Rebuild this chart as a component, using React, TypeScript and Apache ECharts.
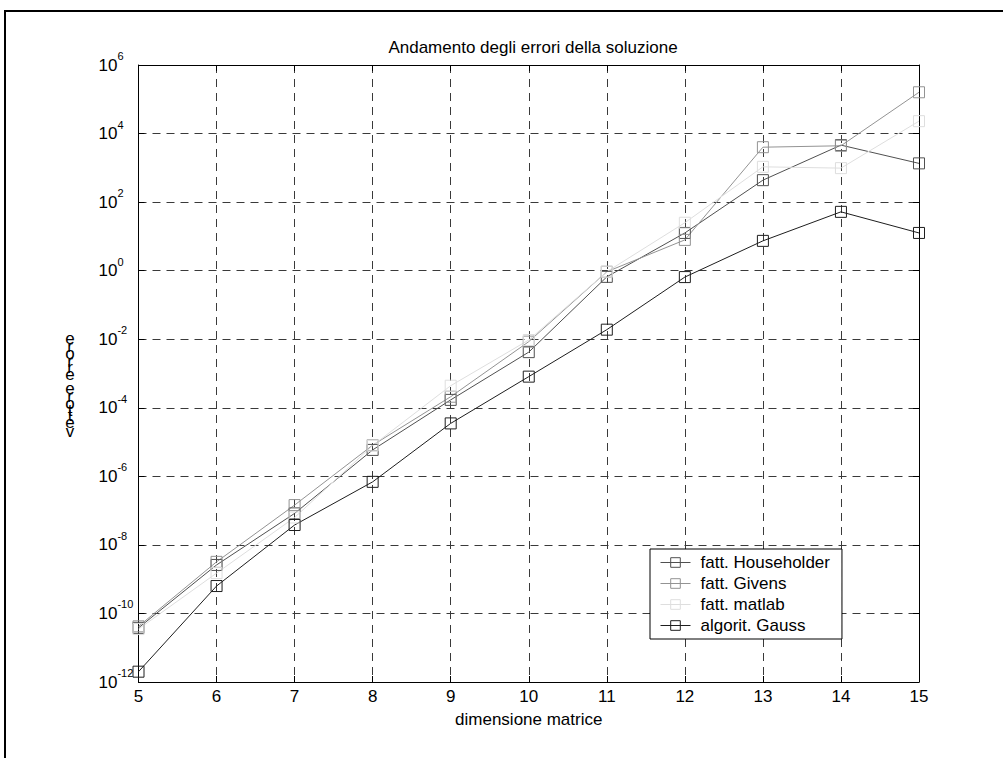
import React, { useEffect, useRef } from "react";
import * as echarts from "echarts";

// ---- data ----
const dims = [5, 6, 7, 8, 9, 10, 11, 12, 13, 14, 15];
const householder = [3.8e-11, 2.6e-9, 8.3e-8, 5.9e-6, 1.7e-4, 4.2e-3, 0.66, 12.6, 437, 4.6e3, 1.35e3];
const givens = [4.2e-11, 3.2e-9, 1.45e-7, 8.1e-6, 2.1e-4, 8.5e-3, 0.93, 7.9, 4.0e3, 4.4e3, 1.6e5];
const matlab = [3.5e-11, 1.5e-9, 6.3e-8, 7.9e-6, 4.4e-4, 9.5e-3, 0.93, 25, 1.07e3, 9.8e2, 2.3e4];
const gauss = [2.0e-12, 6.3e-10, 3.8e-8, 6.9e-7, 3.5e-5, 8.1e-4, 1.9e-2, 0.65, 7.4, 52, 12.6];
const seriesNames = ["fatt. Householder", "fatt. Givens", "fatt. matlab", "algorit. Gauss"];
const seriesValues = [householder, givens, matlab, gauss];
const seriesColors = ["#505050", "#939393", "#dedede", "#1e1e1e"];
const titleText = "Andamento degli errori della soluzione";
const xName = "dimensione matrice";
const yName = "vettore errore";
const xMin = 5, xMax = 15, xStep = 1;
const yMin = 1e-12, yMax = 1e6, yExpStep = 2;

const FONT = "'Liberation Sans', Arial, Helvetica, sans-serif";
const FS = 17;

// y-axis name drawn as upright glyphs stacked bottom-to-top (one text element)
function yNameText() {
  const canvas = document.createElement("canvas");
  const ctx = canvas.getContext("2d");
  const chars = Array.from(yName);
  const adv = chars.map((ch) => {
    if (!ctx) return FS * 0.5;
    ctx.font = `${FS}px 'Liberation Sans', Arial, sans-serif`;
    return ctx.measureText(ch).width;
  });
  const total = adv.reduce((a, b) => a + b, 0);
  const rich: any = {};
  const lines: string[] = [];
  for (let k = chars.length - 1; k >= 0; k--) {
    const key = "c" + k;
    rich[key] = { fontSize: FS, fontFamily: FONT, fill: "#000", lineHeight: adv[k], align: "center" };
    lines.push(`{${key}|${chars[k]}}`);
  }
  const base = 436;
  return {
    type: "text",
    x: 70,
    y: base - total,
    silent: true,
    style: {
      text: lines.join("\n"),
      rich,
      fill: "#000",
      fontSize: FS,
      fontFamily: FONT,
      align: "center",
      verticalAlign: "top",
      textAlign: "center",
      textVerticalAlign: "top",
    },
  };
}

export default function App() {
  const ref = useRef<HTMLDivElement>(null);
  useEffect(() => {
    if (!ref.current) return;
    const chart = echarts.init(ref.current, null, { renderer: "svg" });
    const axisLineStyle = { color: "#000", width: 1 };
    const gridLine = { show: true, lineStyle: { color: "#3a3a3a", width: 1, type: [8, 6] as any } };
    const option: any = {
      animation: false,
      backgroundColor: "#fff",
      textStyle: { fontFamily: FONT },
      title: {
        text: titleText,
        left: 528,
        top: 34,
        textAlign: "center",
        textStyle: { fontSize: FS, fontWeight: "normal", color: "#000", fontFamily: FONT },
      },
      grid: { left: 138.5, right: 84, top: 65, bottom: 76 },
      legend: {
        orient: "vertical",
        left: 650,
        top: 549,
        padding: [5, 12, 5, 10],
        itemGap: 4,
        itemWidth: 30,
        itemHeight: 12,
        borderColor: "#000",
        borderWidth: 1,
        backgroundColor: "#fff",
        selectedMode: false,
        lineStyle: { width: 1 },
        itemStyle: { borderWidth: 1 },
        textStyle: { fontSize: FS, color: "#000", fontFamily: FONT, padding: [0, 0, 0, 5] },
        data: seriesNames,
      },
      xAxis: [
        {
          type: "value",
          min: xMin,
          max: xMax,
          interval: xStep,
          axisLine: { lineStyle: axisLineStyle },
          axisTick: { inside: true, length: 6, lineStyle: axisLineStyle },
          axisLabel: { color: "#000", fontSize: FS, margin: 6, fontFamily: FONT },
          splitLine: gridLine,
          name: xName,
          nameLocation: "middle",
          nameGap: 29,
          nameTextStyle: { color: "#000", fontSize: FS, fontFamily: FONT },
        },
        {
          type: "value",
          position: "top",
          min: xMin,
          max: xMax,
          interval: xStep,
          axisLine: { lineStyle: axisLineStyle },
          axisTick: { inside: true, length: 6, lineStyle: axisLineStyle },
          axisLabel: { show: false },
          splitLine: { show: false },
        },
      ],
      yAxis: [
        {
          type: "log",
          logBase: 10,
          min: yMin,
          max: yMax,
          interval: yExpStep,
          axisLine: { show: true, lineStyle: axisLineStyle },
          axisTick: { show: true, inside: true, length: 6, lineStyle: axisLineStyle },
          axisLabel: {
            align: "left",
            margin: 40,
            color: "#000",
            showMinLabel: true,
            showMaxLabel: true,
            formatter: (v: number) => `{b|10}{s|${Math.round(Math.log10(v))}}`,
            rich: {
              b: { fontSize: FS, color: "#000", fontFamily: FONT },
              s: { fontSize: 11, color: "#000", fontFamily: FONT, padding: [0, 0, 18, 0] },
            },
          },
          splitLine: gridLine,
        },
        {
          type: "log",
          logBase: 10,
          position: "right",
          min: yMin,
          max: yMax,
          interval: yExpStep,
          axisLine: { show: true, lineStyle: axisLineStyle },
          axisTick: { show: true, inside: true, length: 6, lineStyle: axisLineStyle },
          axisLabel: { show: false },
          splitLine: { show: false },
        },
      ],
      graphic: [
        {
          type: "rect",
          silent: true,
          shape: { x: 5, y: 11, width: 1200, height: 1000 },
          style: { fill: "none", stroke: "#000", lineWidth: 2 },
        },
        yNameText(),
      ],
      series: seriesNames.map((name, i) => ({
        name,
        type: "line",
        xAxisIndex: 0,
        yAxisIndex: 0,
        data: dims.map((d, j) => [d, seriesValues[i][j]]),
        color: seriesColors[i],
        symbol: "rect",
        symbolSize: 11,
        showSymbol: true,
        lineStyle: { color: seriesColors[i], width: 1 },
        itemStyle: { color: "rgba(255,255,255,0)", borderColor: seriesColors[i], borderWidth: 1 },
        emphasis: { disabled: true },
      })),
    };
    chart.setOption(option);
    return () => chart.dispose();
  }, []);
  return (
    <div
      ref={ref}
      style={{ position: "absolute", left: 0, top: 0, width: 1003, height: 758, background: "#fff" }}
    />
  );
}
